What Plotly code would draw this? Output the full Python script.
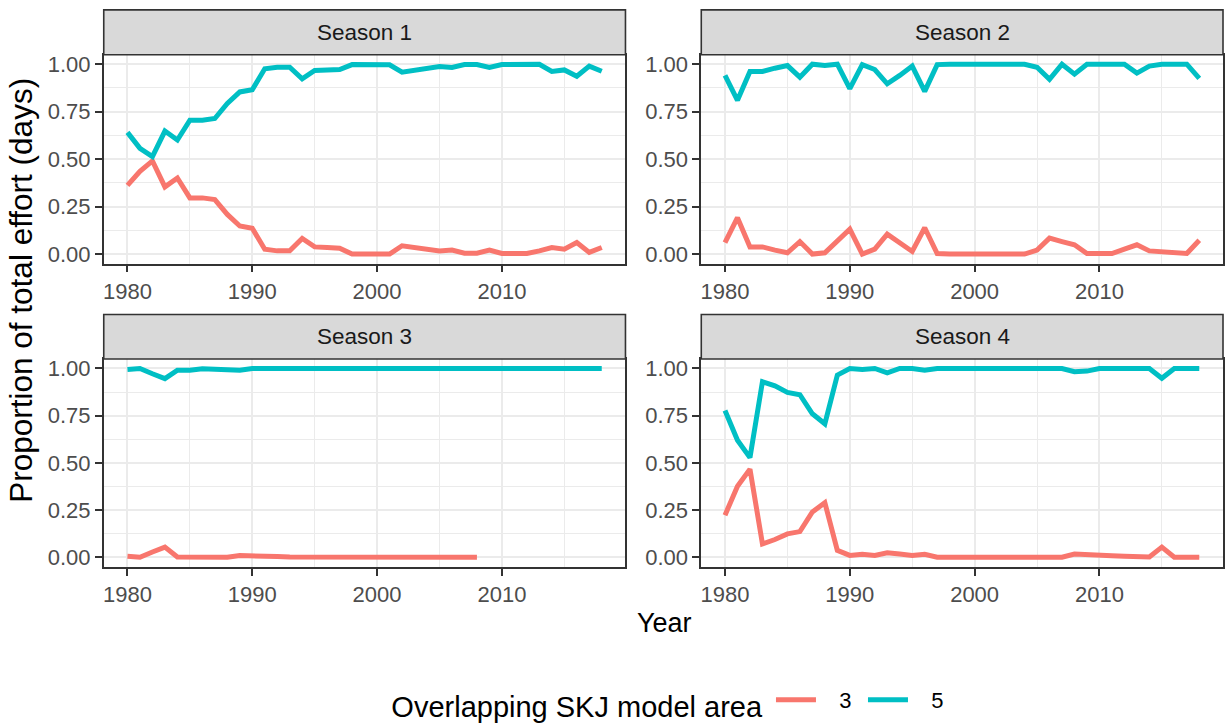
import plotly.graph_objects as go

years = list(range(1980, 2019))
seasons = ["Season 1", "Season 2", "Season 3", "Season 4"]
area_labels = ["3", "5"]

s1_area3 = [0.362, 0.436, 0.491, 0.354, 0.401, 0.296, 0.296, 0.287, 0.209, 0.148,
            0.136, 0.026, 0.017, 0.017, 0.082, 0.038, 0.035, 0.031, 0.0, 0.0,
            0.0, 0.0, 0.044, 0.035, 0.026, 0.017, 0.021, 0.005, 0.005, 0.021,
            0.003, 0.003, 0.003, 0.017, 0.035, 0.026, 0.061, 0.009, 0.035]
s1_area5 = [0.641, 0.557, 0.514, 0.648, 0.601, 0.705, 0.705, 0.714, 0.793, 0.854,
            0.866, 0.976, 0.984, 0.984, 0.923, 0.967, 0.969, 0.972, 0.998, 0.997,
            0.997, 0.997, 0.958, 0.967, 0.979, 0.988, 0.983, 0.998, 0.998, 0.983,
            0.998, 1.0, 1.0, 1.0, 0.962, 0.970, 0.937, 0.990, 0.963]

s2_area3 = [0.061, 0.192, 0.038, 0.038, 0.021, 0.007, 0.066, 0.0, 0.007, 0.07,
            0.131, 0.0, 0.026, 0.105, 0.061, 0.014, 0.139, 0.003, 0.0, 0.0,
            0.0, 0.0, 0.0, 0.0, 0.0, 0.021, 0.084, 0.066, 0.049, 0.003,
            0.003, 0.003, 0.026, 0.049, 0.017, 0.014, 0.012, 0.003, 0.073]
s2_area5 = [0.941, 0.810, 0.962, 0.962, 0.979, 0.993, 0.932, 1.0, 0.993, 1.0,
            0.871, 0.998, 0.972, 0.897, 0.941, 0.990, 0.857, 0.998, 1.0, 1.0,
            1.0, 1.0, 1.0, 1.0, 1.0, 0.984, 0.920, 1.0, 0.948, 1.0,
            1.0, 1.0, 1.0, 0.953, 0.990, 1.0, 1.0, 1.0, 0.925]

s3_area3 = [0.005, 0.0, 0.028, 0.054, 0.002, 0.002, 0.002, 0.002, 0.0, 0.009,
            0.009, 0.006, 0.004, 0.002, 0.002, 0.001, 0.001, 0.0, 0.0, 0.0,
            0.0, 0.0, 0.0, 0.0, 0.0, 0.0, 0.0, 0.0, 0.0,
            None, None, None, None, None, None, None, None, None, None]
s3_area5 = [0.995, 1.0, 0.972, 0.946, 0.991, 0.991, 0.998, 0.995, 0.998, 0.991,
            1.0, 1.0, 1.0, 1.0, 1.0, 1.0, 1.0, 1.0, 1.0, 1.0,
            1.0, 1.0, 1.0, 1.0, 1.0, 1.0, 1.0, 1.0, 1.0, 1.0,
            1.0, 1.0, 1.0, 1.0, 1.0, 1.0, 1.0, 1.0, 1.0]

s4_area3 = [0.223, 0.376, 0.467, 0.071, 0.094, 0.124, 0.136, 0.240, 0.289, 0.037,
            0.010, 0.016, 0.010, 0.024, 0.017, 0.010, 0.016, 0.0, 0.0, 0.0,
            0.0, 0.0, 0.0, 0.0, 0.0, 0.0, 0.0, 0.0, 0.017, 0.016,
            0.010, 0.008, 0.005, 0.002, 0.002, 0.054, 0.0, 0.0, 0.0]
s4_area5 = [0.777, 0.620, 0.528, 0.930, 0.908, 0.873, 0.861, 0.760, 0.707, 0.965,
            1.0, 0.995, 1.0, 0.977, 1.0, 1.0, 0.991, 1.0, 1.0, 1.0,
            1.0, 1.0, 1.0, 1.0, 1.0, 1.0, 1.0, 1.0, 0.983, 0.986,
            1.0, 1.0, 1.0, 1.0, 1.0, 0.948, 1.0, 1.0, 1.0]

series = [(s1_area3, s1_area5), (s2_area3, s2_area5), (s3_area3, s3_area5), (s4_area3, s4_area5)]
colors = ["#F8766D", "#00BFC4"]

x_ticks = [1980, 1990, 2000, 2010]
y_ticks = [0.0, 0.25, 0.5, 0.75, 1.0]
y_ticklabels = ["0.00", "0.25", "0.50", "0.75", "1.00"]

W, H = 1225, 727
FONT = "Liberation Sans, Arial, sans-serif"

def px_x(p):
    return p / W

def px_y(p):
    return 1 - p / H

# panel pixel boxes
col_x = [(103, 626), (702, 1225)]
row_y = [(52.3, 263.5, 7), (360, 570, 315)]

fig = go.Figure()
layout = dict()
shapes = []
annotations = []

for i in range(4):
    r, c = divmod(i, 2)
    xl, xr = col_x[c]
    yt, yb, st = row_y[r]
    ax = "" if i == 0 else str(i + 1)
    xa = "xaxis" + ax
    ya = "yaxis" + ax
    layout[xa] = dict(
        domain=[px_x(xl), px_x(xr)], range=[1978.1, 2019.9], anchor="y" + ax,
        tickmode="array", tickvals=x_ticks, ticktext=[str(t) for t in x_ticks],
        showgrid=True, gridcolor="#EBEBEB", gridwidth=2.2,
        minor=dict(tickmode="array", tickvals=[1985, 1995, 2005, 2015], showgrid=True,
                   gridcolor="#EBEBEB", gridwidth=1.1, ticks=""),
        ticks="outside", ticklen=7, tickwidth=1.6, tickcolor="#333333",
        tickfont=dict(size=22, color="#4D4D4D", family=FONT),
        showline=True, mirror=True, linecolor="#333333", linewidth=1.6,
        zeroline=False, fixedrange=True,
    )
    layout[ya] = dict(
        domain=[px_y(yb), px_y(yt)], range=[-0.05, 1.05], anchor="x" + ax,
        tickmode="array", tickvals=y_ticks, ticktext=y_ticklabels,
        showgrid=True, gridcolor="#EBEBEB", gridwidth=2.2,
        minor=dict(tickmode="array", tickvals=[0.125, 0.375, 0.625, 0.875], showgrid=True,
                   gridcolor="#EBEBEB", gridwidth=1.1, ticks=""),
        ticks="outside", ticklen=7, tickwidth=1.6, tickcolor="#333333",
        tickfont=dict(size=22, color="#4D4D4D", family=FONT),
        showline=True, mirror=True, linecolor="#333333", linewidth=1.6,
        zeroline=False, fixedrange=True,
    )
    for k in range(2):
        fig.add_trace(go.Scatter(
            x=years, y=series[i][k], mode="lines",
            line=dict(color=colors[k], width=5),
            name="\u00a0\u00a0\u00a0" + area_labels[k], legendgroup=area_labels[k], showlegend=(i == 0),
            xaxis="x" + ax, yaxis="y" + ax, connectgaps=False,
        ))
    # strip
    shapes.append(dict(type="rect", xref="paper", yref="paper",
                       x0=px_x(xl), x1=px_x(xr), y0=px_y(yt), y1=px_y(st),
                       fillcolor="#D9D9D9", line=dict(color="#333333", width=1.6), layer="above"))
    annotations.append(dict(xref="paper", yref="paper", x=px_x((xl + xr) / 2), y=px_y((yt + st) / 2),
                            text=seasons[i], showarrow=False, xanchor="center", yanchor="middle",
                            font=dict(size=22.5, color="#1A1A1A", family=FONT)))

annotations.append(dict(xref="paper", yref="paper", x=px_x(665), y=px_y(627), text="Year",
                        showarrow=False, xanchor="center", yanchor="middle",
                        font=dict(size=27, color="#000000", family=FONT)))
annotations.append(dict(xref="paper", yref="paper", x=px_x(20), y=px_y(290),
                        text="Proportion of total effort (days)", textangle=-90,
                        showarrow=False, xanchor="center", yanchor="middle",
                        font=dict(size=31.5, color="#000000", family=FONT)))

fig.update_layout(
    **layout,
    width=W, height=H,
    margin=dict(l=0, r=0, t=0, b=0),
    paper_bgcolor="white", plot_bgcolor="white",
    shapes=shapes, annotations=annotations,
    showlegend=True,
    legend=dict(orientation="h", x=px_x(673), xanchor="center", y=px_y(708), yanchor="middle",
                title=dict(text="Overlapping SKJ model area", font=dict(size=29, color="#000000", family=FONT)),
                font=dict(size=22, color="#000000", family=FONT),
                itemwidth=40, entrywidth=37, bgcolor="rgba(0,0,0,0)"),
    font=dict(family=FONT),
)

fig.write_html("out.html")
